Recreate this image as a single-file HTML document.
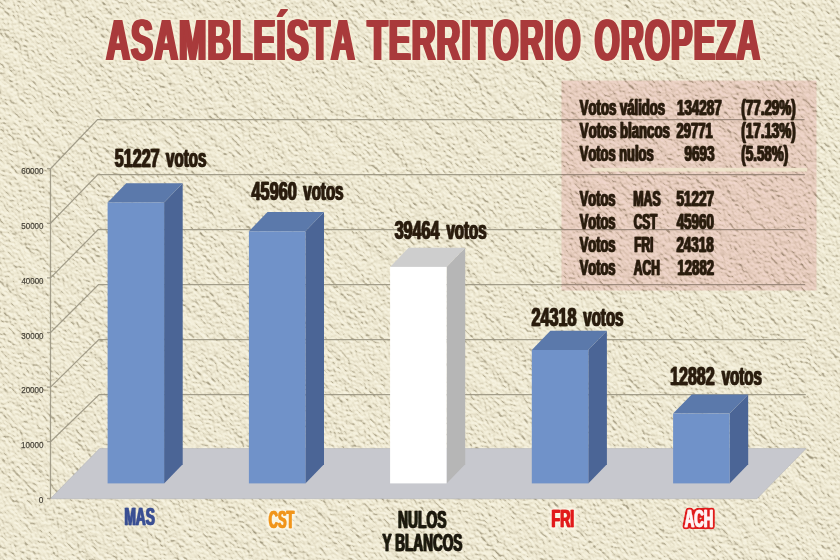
<!DOCTYPE html>
<html lang="es"><head><meta charset="utf-8"><title>Asambleísta Territorio Oropeza</title>
<style>
html,body{margin:0;padding:0;background:#ebe7d0;}
body{width:840px;height:560px;overflow:hidden;}
svg{display:block;}
svg text{font-family:'Liberation Sans', sans-serif;font-weight:bold;font-kerning:none;}
</style></head><body>
<svg width="840" height="560" viewBox="0 0 840 560">
<defs>
<filter id="paper" x="0" y="0" width="100%" height="100%" color-interpolation-filters="sRGB">
<feTurbulence type="fractalNoise" baseFrequency="0.28 0.37" numOctaves="4" seed="11" result="n"/>
<feTurbulence type="fractalNoise" baseFrequency="0.012 0.11" numOctaves="2" seed="4" result="n2"/>
<feComposite in="n" in2="n2" operator="arithmetic" k1="0" k2="1.0" k3="0.55" k4="0" result="h"/>
<feDiffuseLighting in="h" lighting-color="#ffffff" surfaceScale="1.7" diffuseConstant="1" result="l">
<feDistantLight azimuth="250" elevation="50"/>
</feDiffuseLighting>
<feComponentTransfer>
<feFuncR type="table" tableValues="0.55 0.61 0.72 0.888 0.946 0.978"/>
<feFuncG type="table" tableValues="0.52 0.58 0.69 0.862 0.926 0.964"/>
<feFuncB type="table" tableValues="0.42 0.48 0.59 0.768 0.84 0.90"/>
</feComponentTransfer>
</filter>
<filter id="b1" x="-10%" y="-20%" width="120%" height="140%">
<feOffset in="SourceGraphic" dx="1" result="a"/>
<feMerge><feMergeNode in="a"/><feMergeNode in="SourceGraphic"/></feMerge>
</filter>
<filter id="b2" x="-10%" y="-20%" width="120%" height="140%">
<feOffset in="SourceGraphic" dx="1" result="a"/><feOffset in="SourceGraphic" dx="2" result="b"/>
<feMerge><feMergeNode in="a"/><feMergeNode in="b"/><feMergeNode in="SourceGraphic"/></feMerge>
</filter>
<filter id="tg" x="-10%" y="-25%" width="120%" height="150%" color-interpolation-filters="sRGB">
<feOffset in="SourceGraphic" dx="0.9" result="a"/><feOffset in="SourceGraphic" dx="1.8" result="b"/><feOffset in="SourceGraphic" dx="2.6" result="c"/>
<feMerge result="B"><feMergeNode in="a"/><feMergeNode in="b"/><feMergeNode in="c"/><feMergeNode in="SourceGraphic"/></feMerge>
<feMorphology in="B" operator="dilate" radius="2" result="D"/><feGaussianBlur in="D" stdDeviation="1.2" result="DB"/>
<feFlood flood-color="#f6f0d8" flood-opacity="0.85"/><feComposite in2="DB" operator="in" result="G"/>
<feMerge><feMergeNode in="G"/><feMergeNode in="B"/></feMerge>
</filter>
<filter id="hg" x="-20%" y="-30%" width="140%" height="160%" color-interpolation-filters="sRGB">
<feOffset in="SourceGraphic" dx="1" result="a"/>
<feMerge result="B"><feMergeNode in="a"/><feMergeNode in="SourceGraphic"/></feMerge>
<feMorphology in="B" operator="dilate" radius="1.6" result="D"/><feGaussianBlur in="D" stdDeviation="1.1" result="DB"/>
<feFlood flood-color="#fdf9ea" flood-opacity="0.85"/><feComposite in2="DB" operator="in" result="G"/>
<feMerge><feMergeNode in="G"/><feMergeNode in="B"/></feMerge>
</filter>
<filter id="ro" x="-20%" y="-30%" width="140%" height="160%" color-interpolation-filters="sRGB">
<feOffset in="SourceGraphic" dx="1" result="a"/>
<feMerge result="B"><feMergeNode in="a"/><feMergeNode in="SourceGraphic"/></feMerge>
<feMorphology in="B" operator="dilate" radius="1" result="D"/><feGaussianBlur in="D" stdDeviation="1" result="DB0"/>
<feComponentTransfer in="DB0" result="DB"><feFuncA type="linear" slope="5" intercept="-0.8"/></feComponentTransfer>
<feFlood flood-color="#e11b1b"/><feComposite in2="DB" operator="in" result="G"/>
<feMerge><feMergeNode in="G"/><feMergeNode in="B"/></feMerge>
</filter>
<filter id="soft" x="-2%" y="-100%" width="104%" height="300%"><feGaussianBlur stdDeviation="0.6"/></filter>
</defs>
<rect width="840" height="560" fill="#ebe7d0"/>
<g transform="rotate(45 420 280)"><rect x="-200" y="-300" width="1240" height="1160" filter="url(#paper)"/></g>

<polygon points="50.3,498.7 99.6,448.6 806,448.6 757,498.7" fill="#c7c8ce" stroke="#b4b5ba" stroke-width="0.6"/>
<g stroke="#9a9582" stroke-width="1.25" fill="none" stroke-opacity="0.9">
<path d="M47.0,498.5 L50.5,498.5"/>
<path d="M50.5,441.7 L99.2,394.5 L805.8,394.5"/>
<path d="M47.0,441.7 L50.5,441.7"/>
<path d="M50.5,387.1 L98.8,339.5 L805.5,339.5"/>
<path d="M47.0,387.1 L50.5,387.1"/>
<path d="M50.5,332.5 L98.5,284.5 L805.2,284.5"/>
<path d="M47.0,332.5 L50.5,332.5"/>
<path d="M50.5,277.9 L98.2,229.5 L805.0,229.5"/>
<path d="M47.0,277.9 L50.5,277.9"/>
<path d="M50.5,223.3 L97.8,174.5 L804.8,174.5"/>
<path d="M47.0,223.3 L50.5,223.3"/>
<path d="M50.5,168.7 L97.5,119.5 L804.5,119.5"/>
<path d="M47.0,168.7 L50.5,168.7"/>
<path d="M50.5,498.5 L50.5,168.7"/>
</g>
<text x="38.87" y="502.9" font-size="9.8" textLength="4.65" lengthAdjust="spacingAndGlyphs" fill="#48443a" style="font-weight:normal" stroke="#48443a" stroke-width="0.25">0</text>
<text x="20.98" y="448.1" font-size="9.8" textLength="22.53" lengthAdjust="spacingAndGlyphs" fill="#48443a" style="font-weight:normal" stroke="#48443a" stroke-width="0.25">10000</text>
<text x="21.20" y="393.3" font-size="9.8" textLength="22.32" lengthAdjust="spacingAndGlyphs" fill="#48443a" style="font-weight:normal" stroke="#48443a" stroke-width="0.25">20000</text>
<text x="21.30" y="338.5" font-size="9.8" textLength="22.22" lengthAdjust="spacingAndGlyphs" fill="#48443a" style="font-weight:normal" stroke="#48443a" stroke-width="0.25">30000</text>
<text x="21.42" y="283.7" font-size="9.8" textLength="22.09" lengthAdjust="spacingAndGlyphs" fill="#48443a" style="font-weight:normal" stroke="#48443a" stroke-width="0.25">40000</text>
<text x="21.28" y="228.9" font-size="9.8" textLength="22.23" lengthAdjust="spacingAndGlyphs" fill="#48443a" style="font-weight:normal" stroke="#48443a" stroke-width="0.25">50000</text>
<text x="21.19" y="174.1" font-size="9.8" textLength="22.32" lengthAdjust="spacingAndGlyphs" fill="#48443a" style="font-weight:normal" stroke="#48443a" stroke-width="0.25">60000</text>
<polygon points="164.1,202.5 182.7,183.3 182.7,464.2 164.1,483.4" fill="#4b6596"/>
<polygon points="107.6,202.5 126.2,183.3 182.7,183.3 164.1,202.5" fill="#5b79ab"/>
<rect x="107.6" y="202.5" width="56.5" height="280.9" fill="#7092c9"/>
<polygon points="305.4,231.3 324.0,212.1 324.0,464.2 305.4,483.4" fill="#4b6596"/>
<polygon points="248.9,231.3 267.5,212.1 324.0,212.1 305.4,231.3" fill="#5b79ab"/>
<rect x="248.9" y="231.3" width="56.5" height="252.1" fill="#7092c9"/>
<polygon points="446.6,266.9 465.2,247.7 465.2,464.2 446.6,483.4" fill="#b6b6b6"/>
<polygon points="390.1,266.9 408.7,247.7 465.2,247.7 446.6,266.9" fill="#cecece"/>
<rect x="390.1" y="266.9" width="56.5" height="216.5" fill="#ffffff"/>
<polygon points="588.3,350.0 606.9,330.8 606.9,464.2 588.3,483.4" fill="#4b6596"/>
<polygon points="531.8,350.0 550.4,330.8 606.9,330.8 588.3,350.0" fill="#5b79ab"/>
<rect x="531.8" y="350.0" width="56.5" height="133.4" fill="#7092c9"/>
<polygon points="729.6,413.6 748.2,394.4 748.2,464.2 729.6,483.4" fill="#4b6596"/>
<polygon points="673.1,413.6 691.7,394.4 748.2,394.4 729.6,413.6" fill="#5b79ab"/>
<rect x="673.1" y="413.6" width="56.5" height="69.8" fill="#7092c9"/>
<text x="114.36" y="167.4" font-size="26.5" textLength="44.70" lengthAdjust="spacingAndGlyphs" fill="#2a1d10" filter="url(#b1)"  stroke="#2a1d10" stroke-width="0.5">51227</text>
<text x="165.59" y="167.4" font-size="26.5" textLength="40.18" lengthAdjust="spacingAndGlyphs" fill="#2a1d10" filter="url(#b1)"  stroke="#2a1d10" stroke-width="0.5">votos</text>
<text x="251.10" y="200.4" font-size="26.5" textLength="45.11" lengthAdjust="spacingAndGlyphs" fill="#2a1d10" filter="url(#b1)"  stroke="#2a1d10" stroke-width="0.5">45960</text>
<text x="302.79" y="200.4" font-size="26.5" textLength="40.18" lengthAdjust="spacingAndGlyphs" fill="#2a1d10" filter="url(#b1)"  stroke="#2a1d10" stroke-width="0.5">votos</text>
<text x="394.18" y="239.1" font-size="26.5" textLength="44.65" lengthAdjust="spacingAndGlyphs" fill="#2a1d10" filter="url(#b1)"  stroke="#2a1d10" stroke-width="0.5">39464</text>
<text x="445.99" y="239.1" font-size="26.5" textLength="40.18" lengthAdjust="spacingAndGlyphs" fill="#2a1d10" filter="url(#b1)"  stroke="#2a1d10" stroke-width="0.5">votos</text>
<text x="530.99" y="325.8" font-size="26.5" textLength="45.06" lengthAdjust="spacingAndGlyphs" fill="#2a1d10" filter="url(#b1)"  stroke="#2a1d10" stroke-width="0.5">24318</text>
<text x="582.79" y="325.8" font-size="26.5" textLength="40.18" lengthAdjust="spacingAndGlyphs" fill="#2a1d10" filter="url(#b1)"  stroke="#2a1d10" stroke-width="0.5">votos</text>
<text x="669.64" y="385.0" font-size="26.5" textLength="44.55" lengthAdjust="spacingAndGlyphs" fill="#2a1d10" filter="url(#b1)"  stroke="#2a1d10" stroke-width="0.5">12882</text>
<text x="721.19" y="385.0" font-size="26.5" textLength="40.18" lengthAdjust="spacingAndGlyphs" fill="#2a1d10" filter="url(#b1)"  stroke="#2a1d10" stroke-width="0.5">votos</text>
<text x="104.78" y="59.8" font-size="57.5" letter-spacing="2.01" textLength="249.63" lengthAdjust="spacingAndGlyphs" fill="#a93a3b" filter="url(#tg)" >ASAMBLEÍSTA</text>
<text x="365.93" y="59.8" font-size="57.5" letter-spacing="2.01" textLength="214.20" lengthAdjust="spacingAndGlyphs" fill="#a93a3b" filter="url(#tg)" >TERRITORIO</text>
<text x="593.18" y="59.8" font-size="57.5" letter-spacing="2.01" textLength="166.48" lengthAdjust="spacingAndGlyphs" fill="#a93a3b" filter="url(#tg)" >OROPEZA</text>
<rect x="561.5" y="80.5" width="255" height="210" fill="#f8e1e7" style="mix-blend-mode:multiply"/>
<text x="579.36" y="114.8" font-size="22.4" textLength="85.23" lengthAdjust="spacingAndGlyphs" fill="#2a1d10" filter="url(#b1)"  stroke="#2a1d10" stroke-width="0.5">Votos válidos</text>
<text x="676.40" y="114.8" font-size="22.4" textLength="44.94" lengthAdjust="spacingAndGlyphs" fill="#2a1d10" filter="url(#b1)"  stroke="#2a1d10" stroke-width="0.5">134287</text>
<text x="740.78" y="114.8" font-size="22.4" textLength="54.44" lengthAdjust="spacingAndGlyphs" fill="#2a1d10" filter="url(#b1)"  stroke="#2a1d10" stroke-width="0.5">(77.29%)</text>
<text x="579.36" y="137.7" font-size="22.4" textLength="89.93" lengthAdjust="spacingAndGlyphs" fill="#2a1d10" filter="url(#b1)"  stroke="#2a1d10" stroke-width="0.5">Votos blancos</text>
<text x="676.10" y="137.7" font-size="22.4" textLength="36.01" lengthAdjust="spacingAndGlyphs" fill="#2a1d10" filter="url(#b1)"  stroke="#2a1d10" stroke-width="0.5">29771</text>
<text x="740.78" y="137.7" font-size="22.4" textLength="54.44" lengthAdjust="spacingAndGlyphs" fill="#2a1d10" filter="url(#b1)"  stroke="#2a1d10" stroke-width="0.5">(17.13%)</text>
<text x="579.36" y="160.6" font-size="22.4" textLength="73.72" lengthAdjust="spacingAndGlyphs" fill="#2a1d10" filter="url(#b1)"  stroke="#2a1d10" stroke-width="0.5">Votos nulos</text>
<text x="683.98" y="160.6" font-size="22.4" textLength="29.95" lengthAdjust="spacingAndGlyphs" fill="#2a1d10" filter="url(#b1)"  stroke="#2a1d10" stroke-width="0.5">9693</text>
<text x="740.78" y="160.6" font-size="22.4" textLength="46.94" lengthAdjust="spacingAndGlyphs" fill="#2a1d10" filter="url(#b1)"  stroke="#2a1d10" stroke-width="0.5">(5.58%)</text>
<rect x="591.5" y="167.9" width="215.5" height="3.6" fill="#f0e7cc" fill-opacity="0.85" filter="url(#soft)"/>
<text x="579.26" y="206.3" font-size="22.4" textLength="35.72" lengthAdjust="spacingAndGlyphs" fill="#2a1d10" filter="url(#b1)"  stroke="#2a1d10" stroke-width="0.5">Votos</text>
<text x="632.83" y="206.3" font-size="22.4" textLength="27.30" lengthAdjust="spacingAndGlyphs" fill="#2a1d10" filter="url(#b1)"  stroke="#2a1d10" stroke-width="0.5">MAS</text>
<text x="675.93" y="206.3" font-size="22.4" textLength="37.61" lengthAdjust="spacingAndGlyphs" fill="#2a1d10" filter="url(#b1)"  stroke="#2a1d10" stroke-width="0.5">51227</text>
<text x="579.26" y="229.0" font-size="22.4" textLength="35.72" lengthAdjust="spacingAndGlyphs" fill="#2a1d10" filter="url(#b1)"  stroke="#2a1d10" stroke-width="0.5">Votos</text>
<text x="633.16" y="229.0" font-size="22.4" textLength="23.71" lengthAdjust="spacingAndGlyphs" fill="#2a1d10" filter="url(#b1)"  stroke="#2a1d10" stroke-width="0.5">CST</text>
<text x="676.15" y="229.0" font-size="22.4" textLength="37.35" lengthAdjust="spacingAndGlyphs" fill="#2a1d10" filter="url(#b1)"  stroke="#2a1d10" stroke-width="0.5">45960</text>
<text x="579.26" y="252.0" font-size="22.4" textLength="35.72" lengthAdjust="spacingAndGlyphs" fill="#2a1d10" filter="url(#b1)"  stroke="#2a1d10" stroke-width="0.5">Votos</text>
<text x="633.65" y="252.0" font-size="22.4" textLength="19.30" lengthAdjust="spacingAndGlyphs" fill="#2a1d10" filter="url(#b1)"  stroke="#2a1d10" stroke-width="0.5">FRI</text>
<text x="675.88" y="252.0" font-size="22.4" textLength="37.48" lengthAdjust="spacingAndGlyphs" fill="#2a1d10" filter="url(#b1)"  stroke="#2a1d10" stroke-width="0.5">24318</text>
<text x="579.26" y="274.8" font-size="22.4" textLength="35.72" lengthAdjust="spacingAndGlyphs" fill="#2a1d10" filter="url(#b1)"  stroke="#2a1d10" stroke-width="0.5">Votos</text>
<text x="633.35" y="274.8" font-size="22.4" textLength="26.11" lengthAdjust="spacingAndGlyphs" fill="#2a1d10" filter="url(#b1)"  stroke="#2a1d10" stroke-width="0.5">ACH</text>
<text x="677.02" y="274.8" font-size="22.4" textLength="36.45" lengthAdjust="spacingAndGlyphs" fill="#2a1d10" filter="url(#b1)"  stroke="#2a1d10" stroke-width="0.5">12882</text>
<text x="123.94" y="524.8" font-size="23.8" textLength="30.35" lengthAdjust="spacingAndGlyphs" fill="#3a4f93" filter="url(#b1)"  stroke="#3a4f93" stroke-width="0.5">MAS</text>
<text x="268.33" y="528.0" font-size="23.8" textLength="25.36" lengthAdjust="spacingAndGlyphs" fill="#f0951c" filter="url(#hg)"  stroke="#f0951c" stroke-width="0.5">CST</text>
<text x="397.53" y="527.7" font-size="23.8" textLength="48.36" lengthAdjust="spacingAndGlyphs" fill="#1d1a0e" filter="url(#b1)"  stroke="#1d1a0e" stroke-width="0.5">NULOS</text>
<text x="382.02" y="550.5" font-size="23.8" textLength="79.76" lengthAdjust="spacingAndGlyphs" fill="#1d1a0e" filter="url(#b1)"  stroke="#1d1a0e" stroke-width="0.5">Y BLANCOS</text>
<text x="551.11" y="527.2" font-size="23.8" textLength="22.68" lengthAdjust="spacingAndGlyphs" fill="#e11b1b" filter="url(#hg)"  stroke="#e11b1b" stroke-width="0.5">FRI</text>
<text x="684.32" y="527.4" font-size="24.8" textLength="28.41" lengthAdjust="spacingAndGlyphs" fill="#fff4f4" filter="url(#ro)"  stroke="#fff4f4" stroke-width="0.5">ACH</text>
</svg>
</body></html>
